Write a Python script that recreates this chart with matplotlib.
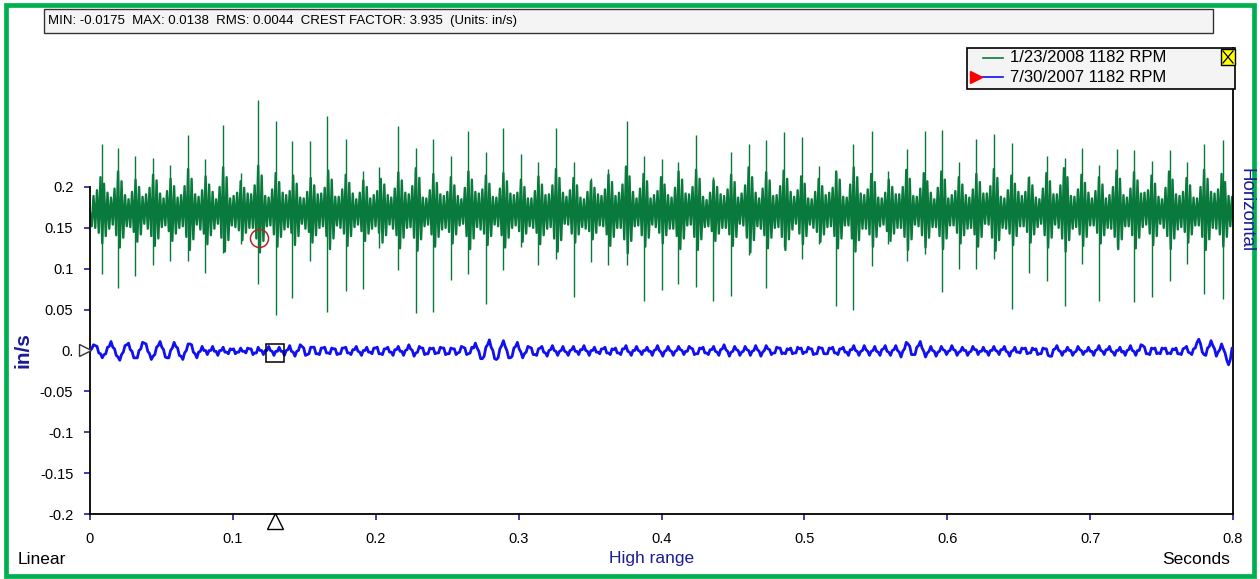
import numpy as np
import matplotlib.pyplot as plt
from matplotlib.patches import Rectangle
from matplotlib.lines import Line2D

plt.rcParams['font.family'] = ['Liberation Sans', 'DejaVu Sans']

W, H = 1260, 579

GREEN = '#0A7A3C'
BLUE = '#1010F0'
NAVY = '#1C1C96'
FRAME = '#00B050'

DT = 0.001226  # sample interval of the stored traces, s

# impact spikes of the 1/23/2008 trace (time s, peak, trough in in/s)
SPIKE_T = [0.0082, 0.0198, 0.0315, 0.0443, 0.0560, 0.0684, 0.0805, 0.0929, 0.1057, 0.1174,
           0.1300, 0.1416, 0.1540, 0.1661, 0.1790, 0.1913, 0.2025, 0.2158, 0.2282, 0.2403,
           0.2527, 0.2648, 0.2770, 0.2893, 0.3017, 0.3138, 0.3260, 0.3386, 0.3507, 0.3623,
           0.3756, 0.3875, 0.4001, 0.4118, 0.4242, 0.4358, 0.4486, 0.4612, 0.4731, 0.4857,
           0.4981, 0.5100, 0.5220, 0.5342, 0.5471, 0.5587, 0.5716, 0.5844, 0.5961, 0.6084,
           0.6201, 0.6327, 0.6451, 0.6574, 0.6696, 0.6824, 0.6945, 0.7064, 0.7186, 0.7307,
           0.7435, 0.7559, 0.7680, 0.7799, 0.7928]
SPIKE_HI = [0.252, 0.248, 0.238, 0.236, 0.227, 0.264, 0.234, 0.276, 0.217, 0.307,
            0.281, 0.256, 0.256, 0.287, 0.259, 0.220, 0.225, 0.275, 0.248, 0.259,
            0.238, 0.268, 0.243, 0.272, 0.240, 0.230, 0.272, 0.230, 0.211, 0.222,
            0.281, 0.238, 0.234, 0.230, 0.264, 0.212, 0.243, 0.252, 0.258, 0.267,
            0.261, 0.226, 0.217, 0.252, 0.269, 0.220, 0.247, 0.269, 0.270, 0.231,
            0.259, 0.265, 0.254, 0.213, 0.238, 0.235, 0.248, 0.227, 0.247, 0.245,
            0.232, 0.245, 0.230, 0.252, 0.258]
SPIKE_LO = [0.093, 0.077, 0.091, 0.105, 0.109, 0.109, 0.095, 0.119, 0.130, 0.081,
            0.044, 0.064, 0.109, 0.047, 0.073, 0.075, 0.125, 0.099, 0.046, 0.047,
            0.086, 0.093, 0.057, 0.098, 0.126, 0.105, 0.112, 0.066, 0.108, 0.105,
            0.105, 0.061, 0.074, 0.081, 0.078, 0.061, 0.067, 0.117, 0.077, 0.126,
            0.112, 0.130, 0.055, 0.049, 0.103, 0.130, 0.110, 0.118, 0.071, 0.100,
            0.100, 0.112, 0.051, 0.095, 0.085, 0.054, 0.106, 0.060, 0.127, 0.059,
            0.065, 0.085, 0.106, 0.069, 0.063]

# background vibration of the 1/23/2008 trace, thousandths of in/s
GREEN_BAND = """
168 152 189 150 196 144 212 131 204 140
193 149 187 154 198 141 219 126 207 138
190 152 185 151 194 145 209 133 200 142
188 155 191 149 199 140 215 128 208 137
192 151 186 153 195 146 210 134 201 143
187 150 190 152 201 139 222 123 210 136
191 154 188 148 196 143 213 130 203 141
194 149 185 155 200 138 224 121 212 135
186 153 189 151 193 147 207 135 199 144
192 150 191 150 202 137 226 120 214 134
189 152 187 153 197 142 217 127 206 139
193 148 190 151 195 144 214 129 204 140
187 155 186 149 194 145 211 132 202 141
191 150 192 152 199 140 220 124 209 137
188 153 188 150 197 143 215 128 205 140
192 151 185 154 193 146 208 134 200 143
186 149 190 152 195 144 210 132 203 141
190 154 187 149 198 141 218 125 208 138
193 150 191 151 201 138 223 122 211 136
187 152 186 154 196 142 216 127 205 139
191 148 189 150 194 145 212 131 202 142
189 153 185 155 199 140 219 124 209 137
194 151 192 148 197 143 214 129 204 140
188 154 187 152 198 141 217 126 207 138
192 150 190 153 193 146 209 133 200 143
186 152 186 150 195 144 213 130 203 141
190 149 191 151 202 137 222 121 211 135
193 155 188 154 196 143 211 132 202 142
187 151 185 149 194 146 207 136 199 144
191 153 189 152 197 142 215 128 206 139
189 150 193 150 203 136 225 119 213 134
194 152 186 153 198 141 216 127 207 138
186 154 190 151 195 144 212 131 203 141
190 149 187 149 199 140 219 124 209 137
192 153 191 154 200 139 221 123 210 136
188 151 184 152 193 146 208 134 200 143
191 150 189 150 197 142 215 128 206 139
187 155 192 153 202 138 224 120 212 135
193 152 186 149 198 141 218 125 208 138
189 150 190 151 201 139 220 123 210 136
194 148 188 155 196 143 213 130 204 140
186 154 185 150 194 145 210 133 201 142
190 151 193 152 199 140 219 125 209 137
188 153 187 153 203 137 224 121 212 135
192 149 190 149 197 142 216 127 206 139
187 152 186 154 193 146 209 134 200 143
191 150 191 150 200 139 221 123 210 136
189 154 188 152 198 141 217 126 207 138
193 151 185 151 199 140 219 124 209 137
186 153 190 153 195 144 212 131 203 141
190 149 187 150 197 142 216 127 206 139
192 155 192 154 201 138 222 122 211 135
188 150 186 149 196 143 214 129 204 140
194 152 189 152 194 145 211 132 202 142
187 151 185 155 198 141 217 126 207 138
191 154 191 150 202 137 223 121 212 135
189 149 188 151 197 142 215 128 205 139
193 153 186 153 195 144 212 131 203 141
186 150 190 149 200 139 220 124 210 136
190 152 187 152 198 141 218 125 208 138
192 151 193 154 196 143 214 129 204 140
188 155 185 150 199 140 219 124 209 137
191 148 189 151 194 145 211 132 202 142
187 153 186 153 200 139 221 123 210 136
194 150 192 149 197 142 216 127 206 139
189 152 188 152 193 146 209 134 200 143
"""

# 7/30/2007 trace, thousandths of in/s
BLUE_WAVE = """
1 2 7 6 5 -3 -4 -9 -5 -4
4 5 11 4 2 -6 -8 -12 -5 -2
6 7 9 1 -1 -9 -9 -9 0 2
10 9 8 -1 -4 -11 -7 -5 4 6
11 4 1 -8 -9 -9 0 3 10 5
3 -6 -7 -11 -3 0 8 8 7 -2
-4 -9 -2 -1 5 0 0 -5 0 0
5 -1 -1 -6 0 0 4 -2 -2 -4
2 1 2 -4 -2 -2 3 -1 -1 -3
3 2 2 -5 -3 -3 4 0 0 -5
0 0 5 0 -1 -6 -1 -1 4 -1
-1 -6 0 1 6 -1 -2 -7 -1 0
7 5 3 -6 -5 -4 4 4 4 -4
-4 -5 3 3 4 -3 -3 -4 3 2
2 -5 -4 -4 3 3 4 -3 -3 -5
1 1 5 -1 -2 -6 0 0 4 -2
-2 -4 3 3 4 -4 -4 -5 2 2
4 -2 -2 -6 1 1 5 -1 -1 -6
0 1 7 2 0 -7 -3 -2 5 3
3 -5 -4 -4 3 2 3 -4 -3 -3
4 3 3 -5 -4 -4 3 2 2 -5
-3 -2 5 4 3 -5 -4 -3 4 3
9 3 -1 -10 -10 -7 4 7 13 4
0 -10 -11 -9 2 6 12 5 0 -9
-9 -7 3 5 10 2 -2 -9 -4 -2
5 4 3 -5 -5 -6 2 3 5 -2
-3 -7 0 1 6 0 -1 -6 -1 0
5 -1 -2 -6 0 1 5 -1 -1 -5
1 1 6 0 -1 -6 0 0 4 -2
-2 -4 2 2 4 -3 -3 -5 2 1
3 -3 -3 -5 2 2 6 -1 -2 -6
0 0 5 0 -1 -5 0 0 4 -1
-1 -6 0 1 6 0 -2 -7 -1 0
5 0 -1 -6 -1 0 5 1 0 -5
-1 -1 5 3 2 -5 -4 -4 3 2
4 -3 -3 -5 1 1 5 -1 -2 -6
1 2 7 1 -1 -7 -2 -1 5 1
0 -6 -2 -1 5 1 0 -6 -1 0
6 1 -1 -7 -2 0 6 2 1 -5
-3 -3 4 3 3 -4 -3 -4 2 1
3 -4 -3 -3 4 2 3 -4 -2 -2
4 2 2 -5 -4 -4 4 3 3 -4
-4 -4 3 2 4 -3 -3 -5 2 2
4 -2 -2 -6 1 1 6 0 -1 -6
-1 0 6 1 -1 -6 -1 0 5 -1
-2 -6 1 2 6 -1 -2 -6 0 1
6 0 -2 -8 -1 2 10 8 5 -5
-5 -5 4 6 11 3 -1 -8 -3 -1
5 0 -1 -7 -2 -1 5 1 0 -5
-1 0 6 1 0 -6 -2 -1 4 0
0 -6 -2 -1 5 1 1 -5 -1 -1
4 -1 -1 -6 0 0 5 0 -1 -5
1 1 5 -1 -2 -7 -1 0 4 -2
-2 -3 3 2 3 -4 -3 -3 3 1
2 -5 -4 -4 3 2 2 -6 -7 -7
1 2 6 0 -1 -6 -1 -1 4 0
0 -6 -2 -1 5 1 0 -5 -1 -1
4 -1 -1 -6 0 1 6 0 -1 -5
1 1 5 -1 -2 -6 0 0 4 -2
-1 -6 0 1 6 0 -1 -6 0 0
7 6 4 -4 -4 -5 3 2 3 -4
-3 -4 3 2 3 -4 -3 -4 2 1
3 -4 -4 -5 2 3 5 -2 -3 -5
2 3 10 13.8 8 -2 -5 -6 3 5
12 6 2 -7 -2 1 8 2 -3 -12
-17.5 -11 3 3 4 -3 -3 -4 2 0
"""

Y_TICKS = [-0.2, -0.15, -0.1, -0.05, 0.0, 0.05, 0.1, 0.15, 0.2]
Y_LABELS = ['-0.2', '-0.15', '-0.1', '-0.05', '0.', '0.05', '0.1', '0.15', '0.2']
X_TICKS = [0, 0.1, 0.2, 0.3, 0.4, 0.5, 0.6, 0.7, 0.8]
X_LABELS = ['0', '0.1', '0.2', '0.3', '0.4', '0.5', '0.6', '0.7', '0.8']

STATS = 'MIN: -0.0175  MAX: 0.0138  RMS: 0.0044  CREST FACTOR: 3.935  (Units: in/s)'
LEGEND = ['1/23/2008 1182 RPM', '7/30/2007 1182 RPM']

# cursor markers
CIRCLE = (0.1183, 0.137)
CURSOR_T = 0.1298
CURSOR_Y = -0.003


def fx(x):
    return x / W


def fy(y):
    return 1 - y / H


band = np.array(GREEN_BAND.split(), float) / 1000
blue = np.array(BLUE_WAVE.split(), float) / 1000
t_band = np.arange(len(band)) * DT
t_blue = np.arange(len(blue)) * DT

fig = plt.figure(figsize=(W / 100, H / 100), dpi=100)
fig.patch.set_facecolor('white')
ax = fig.add_axes([fx(90), fy(514), (1233 - 90) / W, (514 - 48) / H])
ax.set_xlim(0, 0.8)
ax.set_ylim(-0.2, 0.370)

ax.plot(t_band, band, color=GREEN, lw=1.7, zorder=2)
ax.vlines(SPIKE_T, SPIKE_LO, SPIKE_HI, color=GREEN, lw=1.0, zorder=2)
ax.plot(t_blue, blue, color=BLUE, lw=2.0, zorder=3)

# cursors
ax.plot(*CIRCLE, 'o', ms=13, mfc='none', mec='#B02828', mew=1.1, zorder=5)
ax.plot(CURSOR_T, CURSOR_Y, 's', ms=13, mfc='none', mec='black', mew=1.1, zorder=5)
ax.plot(CURSOR_T, -0.2085, '^', ms=11, mfc='white', mec='black', mew=1.0,
        clip_on=False, zorder=6)
ax.plot(-0.0035, 0.0, '>', ms=9, mfc='white', mec='#333333', mew=1.0,
        clip_on=False, zorder=6)

ax.spines['top'].set_visible(False)
ax.spines['left'].set_bounds(-0.2, 0.2)
for side in ['left', 'bottom', 'right']:
    ax.spines[side].set_color('black')
    ax.spines[side].set_linewidth(1.3)

ax.set_yticks(Y_TICKS)
ax.set_yticklabels(Y_LABELS)
ax.set_xticks(X_TICKS)
ax.set_xticklabels(X_LABELS)
ax.tick_params(axis='y', direction='out', length=4, width=1.2, color=NAVY,
               labelsize=10.5, pad=8, labelcolor='black')
ax.tick_params(axis='x', direction='out', length=4, width=1.2, color=NAVY,
               labelsize=10.5, pad=9, labelcolor='black')

# stats box
fig.patches.append(Rectangle((fx(44), fy(33)), (1213 - 44) / W, 24 / H,
                             transform=fig.transFigure, fc='#F4F4F4', ec='#333333', lw=1.0))
fig.text(fx(48), fy(21), STATS, fontsize=9.5, va='center', ha='left')

# legend box
fig.patches.append(Rectangle((fx(967), fy(89)), (1235 - 967) / W, 41 / H,
                             transform=fig.transFigure, fc='#F4F4F4', ec='black', lw=1.2,
                             zorder=10))
fig.lines.append(Line2D([fx(983), fx(1003)], [fy(58), fy(58)], color=GREEN, lw=1.2,
                        transform=fig.transFigure, zorder=11))
fig.lines.append(Line2D([fx(982), fx(1003)], [fy(77), fy(77)], color=BLUE, lw=1.2,
                        transform=fig.transFigure, zorder=11))
fig.lines.append(Line2D([fx(976)], [fy(77)], marker='>', ms=8, color='#FF0000', mec='#FF0000',
                        transform=fig.transFigure, zorder=11))
fig.text(fx(1010), fy(58), LEGEND[0], fontsize=12, va='center', ha='left', zorder=11)
fig.text(fx(1010), fy(77), LEGEND[1], fontsize=12, va='center', ha='left', zorder=11)
fig.patches.append(Rectangle((fx(1221), fy(65)), 14 / W, 16 / H,
                             transform=fig.transFigure, fc='#FFFF00', ec='black', lw=1.0,
                             zorder=11))
fig.lines.append(Line2D([fx(1223), fx(1233)], [fy(51), fy(63)], color='black', lw=0.9,
                        transform=fig.transFigure, zorder=12))
fig.lines.append(Line2D([fx(1223), fx(1233)], [fy(63), fy(51)], color='black', lw=0.9,
                        transform=fig.transFigure, zorder=12))

# axis captions
fig.text(fx(23), fy(350), 'in/s', rotation=90, color=NAVY, fontsize=15, weight='bold',
         ha='center', va='center')
fig.text(fx(1246), fy(210), 'Horizontal', rotation=270, color=NAVY, fontsize=13.5,
         ha='center', va='center')
fig.text(fx(18), fy(559), 'Linear', fontsize=12.5, ha='left', va='center')
fig.text(fx(652), fy(559), 'High range', fontsize=12.5, color=NAVY, ha='center', va='center')
fig.text(fx(1230), fy(559), 'Seconds', fontsize=12.5, ha='right', va='center')

# outer frame
fig.patches.append(Rectangle((fx(6), fy(576)), (1254 - 6) / W, (576 - 5) / H,
                             transform=fig.transFigure, fc='none', ec=FRAME, lw=3.4))

fig.savefig('out.png', dpi=100)
